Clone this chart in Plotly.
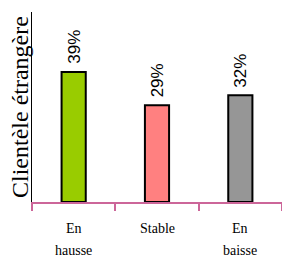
import plotly.graph_objects as go

categories = ["En hausse", "Stable", "En baisse"]
label_line1 = ["En", "Stable", "En"]
label_line2 = ["hausse", "", "baisse"]
values = [39, 29, 32]
colors = ["#99CC00", "#FF8080", "#969696"]
y_title = "Clientèle étrangère"

fig = go.Figure()
fig.add_trace(go.Bar(
    x=categories, y=values,
    width=0.29,
    marker=dict(color=colors, line=dict(color="black", width=2)),
    hoverinfo="skip",
))

annotations = []
for c, v in zip(categories, values):
    annotations.append(dict(x=c, xref="x", y=v, yref="y", yanchor="bottom", yshift=6,
                            text=f"{v}%", textangle=-90, showarrow=False,
                            font=dict(family="Liberation Sans", size=17, color="black")))
for c, l1, l2 in zip(categories, label_line1, label_line2):
    annotations.append(dict(x=c, xref="x", y=0, yref="paper", yshift=-17,
                            text=l1, showarrow=False, yanchor="top",
                            font=dict(family="Liberation Serif", size=14, color="black")))
    if l2:
        annotations.append(dict(x=c, xref="x", y=0, yref="paper", yshift=-40,
                                text=l2, showarrow=False, yanchor="top", borderpad=0,
                                font=dict(family="Liberation Serif", size=14, color="black")))
annotations.append(dict(x=0, xref="paper", y=0.5, yref="paper", text=y_title,
                        textangle=-90, showarrow=False, xanchor="right", xshift=3,
                        font=dict(family="Liberation Serif", size=24, color="black")))

fig.update_layout(
    width=282, height=262,
    margin=dict(l=32, r=0, t=12, b=60),
    paper_bgcolor="white", plot_bgcolor="white",
    showlegend=False,
    annotations=annotations,
    xaxis=dict(showline=True, linecolor="#CC6699", linewidth=1.5,
               ticks="outside", tickson="boundaries", ticklen=7, tickcolor="#CC6699",
               tickwidth=1.5, showticklabels=False, showgrid=False, zeroline=False),
    yaxis=dict(range=[0, 57], showline=True, linecolor="black", linewidth=1,
               showticklabels=False, ticks="", showgrid=False, zeroline=False),
)

fig.write_html("out.html", config={"displayModeBar": False},
               post_script="document.body.style.margin='0';")
